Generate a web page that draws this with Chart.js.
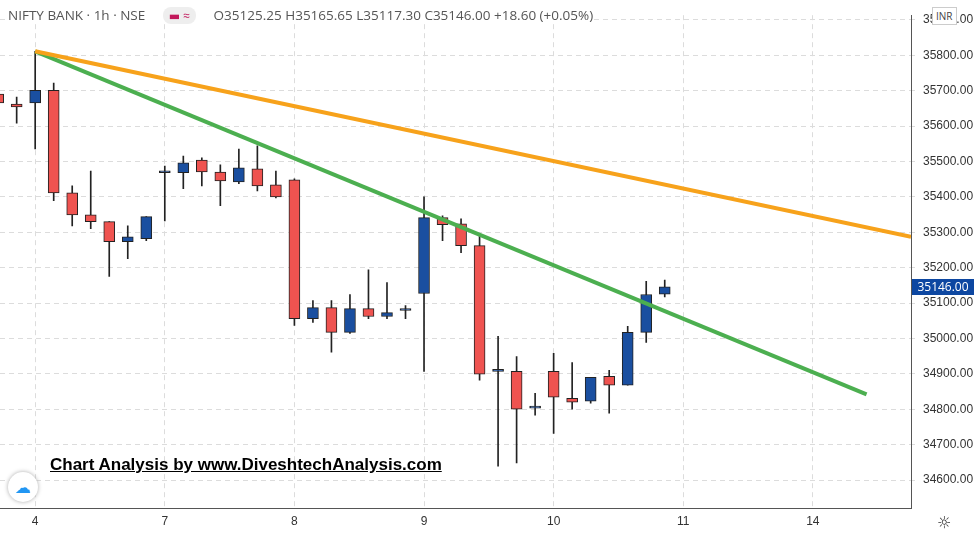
<!DOCTYPE html>
<html><head><meta charset="utf-8">
<script src="https://cdn.jsdelivr.net/npm/chart.js@4"></script>
<style>
body{margin:0;background:#fff;font-family:"Open Sans","DejaVu Sans",sans-serif;}
#wrap{position:relative;width:976px;height:535px;}
#hdr{position:absolute;left:8px;top:6px;font-size:13.5px;color:#555;white-space:nowrap;background:#fff}
#hdr .ic{display:inline-block;background:#eee;border-radius:8px;padding:0 6px;margin:0 14px 0 14px;color:#c2185b;font-size:12px}
#note{position:absolute;left:50px;top:455px;font-weight:bold;font-size:17px;text-decoration:underline;color:#000;font-family:"Liberation Sans",Arial,sans-serif}
#inr{position:absolute;left:932px;top:7px;border:1px solid #ccc;background:#fff;font-size:10px;color:#444;padding:1px 3px;}
#last{position:absolute;left:912px;top:279px;width:62px;height:16px;background:#0d47a1;color:#fff;font-size:12px;text-align:center;line-height:16px}
#logo{position:absolute;left:8px;top:472px;width:30px;height:30px;border-radius:15px;background:#fff;box-shadow:0 0 4px #aaa;color:#2196f3;font-size:16px;text-align:center;line-height:30px}
#gear{position:absolute;left:937px;top:511px;font-size:16px;color:#333}
</style></head><body>
<div id="wrap"><canvas id="c" width="976" height="535"></canvas>
<div id="hdr">NIFTY BANK · 1h · NSE <span class="ic">▬ ≈</span> O35125.25 H35165.65 L35117.30 C35146.00 +18.60 (+0.05%)</div>
<div id="inr">INR</div>
<div id="last">35146.00</div>
<div id="note">Chart Analysis by www.DiveshtechAnalysis.com</div>
<div id="logo">☁</div>
<div id="gear">☼</div>
</div>
<script>
const idx   =[-2,-1,0,1,2,3,4,5,6,7,8,9,10,11,12,13,14,15,16,17,18,19,20,21,22,23,24,25,26,27,28,29,30,31,32,33,34];
const opens =[35690,35662,35665,35701,35411,35349,35330,35273,35282,35468,35468,35504,35470,35442,35479,35434,35448,35056,35087,35017,35084,35062,35079,35127,35341,35324,35262,34907,34907,34803,34907,34831,34823,34893,34868,35017,35125];
const highs =[35700,35682,35811,35721,35431,35473,35330,35318,35344,35487,35515,35510,35490,35535,35544,35473,35451,35107,35107,35124,35194,35158,35093,35400,35346,35338,35293,35006,34949,34845,34958,34932,34890,34910,35034,35161,35165];
const lows  =[35655,35608,35535,35389,35318,35310,35175,35225,35276,35332,35423,35431,35375,35437,35417,35397,35037,35045,34961,35014,35056,35056,35056,34907,35276,35242,34882,34639,34648,34783,34732,34800,34817,34789,34868,34989,35117];
const closes=[35665,35654,35701,35411,35349,35330,35273,35287,35344,35470,35496,35470,35445,35482,35431,35400,35056,35087,35017,35084,35062,35073,35081,35341,35321,35262,34899,34909,34800,34805,34834,34820,34890,34868,35017,35124,35146];
const dayTicks=[0,7,14,21,28,35,42];
const dayLabels=["4","7","8","9","10","11","14"];
const orangeLine=[{x:0,y:35811},{x:47.3,y:35287}];
const greenLine=[{x:0,y:35811},{x:44.9,y:34842}];
const up=(i)=>closes[i]>=opens[i];
new Chart(document.getElementById('c'),{
 data:{datasets:[
  {type:'line',data:orangeLine,borderColor:'#f7a21b',borderWidth:4,pointRadius:0,order:1},
  {type:'line',data:greenLine,borderColor:'#4caf50',borderWidth:4,pointRadius:0,order:1},
  {type:'bar',data:idx.map((x,i)=>({x,y:[lows[i],highs[i]]})),backgroundColor:'#222',barThickness:1,grouped:false,order:3},
  {type:'bar',data:idx.map((x,i)=>({x,y:[opens[i],closes[i]]})),backgroundColor:idx.map((x,i)=>up(i)?'#1a4fa0':'#ef5350'),
   borderColor:'#222',borderWidth:1,borderSkipped:false,barThickness:11,minBarLength:2,grouped:false,order:2}
 ]},
 options:{animation:false,responsive:false,maintainAspectRatio:false,
  layout:{padding:0},
  plugins:{legend:{display:false},tooltip:{enabled:false}},
  scales:{
   x:{type:'linear',min:-1.9,max:47.3,offset:false,
     afterBuildTicks:s=>{s.ticks=dayTicks.map(v=>({value:v}));},
     afterFit:s=>{s.height=27;},
     ticks:{callback:(v)=>dayLabels[dayTicks.indexOf(v)]??'',color:'#333',font:{size:12},maxRotation:0,padding:6},
     grid:{color:'#dcdcdc',offset:false,drawTicks:false},border:{display:true,color:'#555',dash:[5,4]}},
   y:{position:'right',min:34521,max:35913,
     afterBuildTicks:s=>{const t=[];for(let v=34600;v<=35900;v+=100)t.push({value:v});s.ticks=t;},
     afterFit:s=>{s.width=65;},
     ticks:{callback:v=>v.toFixed(2),color:'#333',font:{size:12},padding:8},
     grid:{color:'#dcdcdc',tickLength:4},border:{display:true,color:'#555',dash:[5,4]}}
  }
 }
});
</script></body></html>
